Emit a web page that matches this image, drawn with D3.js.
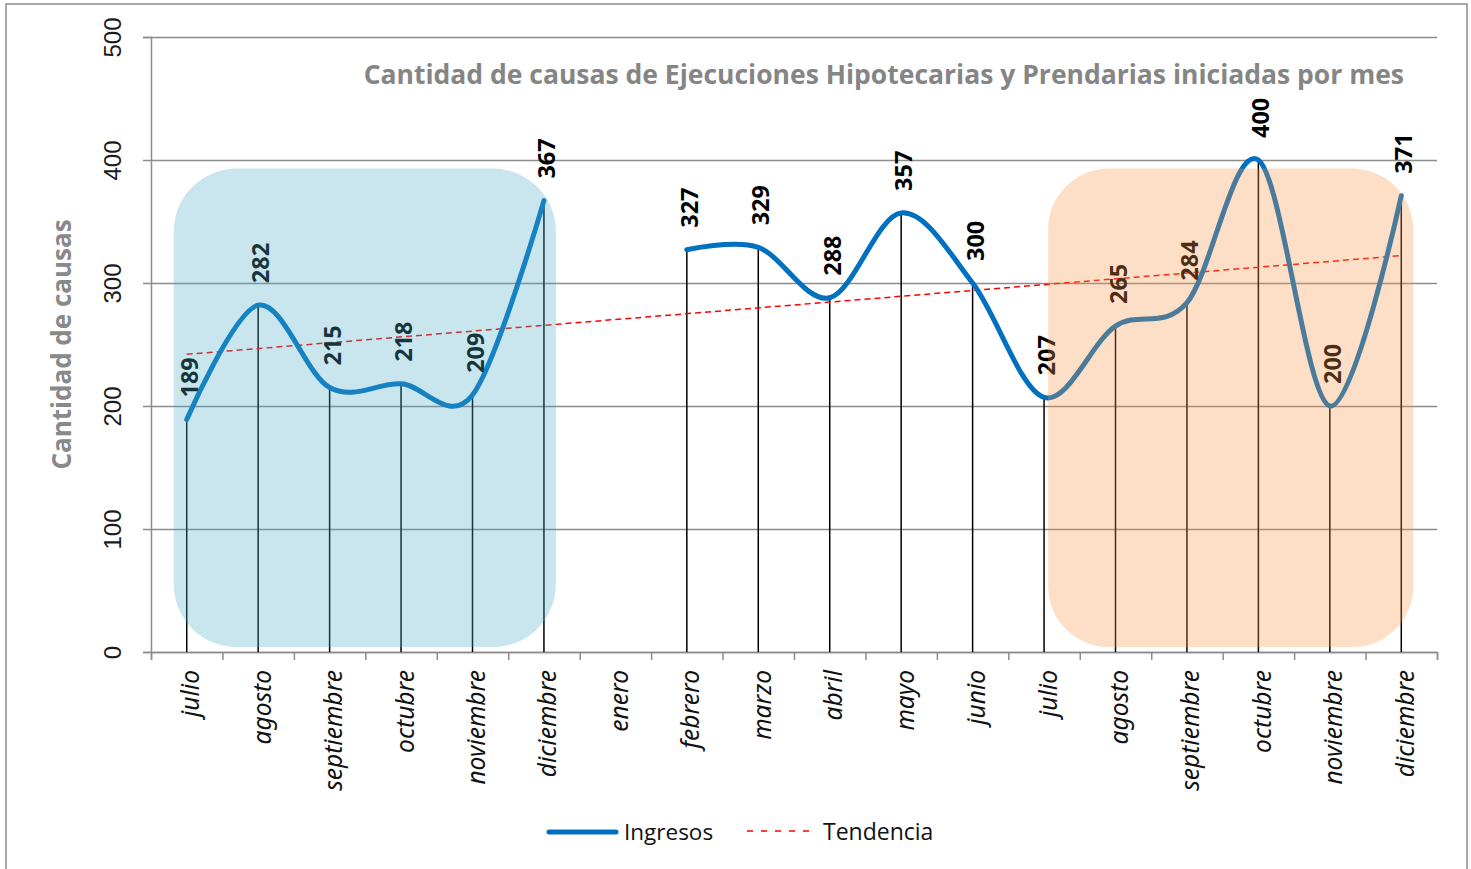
<!DOCTYPE html>
<html>
<head>
<meta charset="utf-8">
<script src="https://cdn.jsdelivr.net/npm/d3@7"></script>
<style>
  body { margin: 0; background: #fff; }
  svg { font-family: "Open Sans", "Noto Sans", sans-serif; }
</style>
</head>
<body>
<script>
// datos del grafico
var meses = ["julio", "agosto", "septiembre", "octubre", "noviembre", "diciembre", "enero",
  "febrero", "marzo", "abril", "mayo", "junio", "julio", "agosto", "septiembre", "octubre",
  "noviembre", "diciembre"];
var ingresos = [189, 282, 215, 218, 209, 367, null, 327, 329, 288, 357, 300, 207, 265, 284, 400, 200, 371];
var yTicks = [0, 100, 200, 300, 400, 500];
var titulo = "Cantidad de causas de Ejecuciones Hipotecarias y Prendarias iniciadas por mes";
var tituloY = "Cantidad de causas";
var leyenda = ["Ingresos", "Tendencia"];

var width = 1471, height = 869;
var mLeft = 151, mRight = 1437, mTop = 37, mBottom = 652;

var svg = d3.select("body").append("svg")
  .attr("width", width)
  .attr("height", height);

// marco exterior
svg.append("rect")
  .attr("x", 6).attr("y", 4)
  .attr("width", 1461).attr("height", 880)
  .attr("fill", "#fff")
  .attr("stroke", "#8c8c8c")
  .attr("stroke-width", 1.5);

var idx = d3.range(meses.length);
var x = d3.scaleBand().domain(idx).range([mLeft, mRight]);
var xEdge = d3.scaleLinear().domain([0, meses.length]).range([mLeft, mRight]);
var y = d3.scaleLinear().domain([0, 500]).range([mBottom, mTop]);
var cx = function(i) { return x(i) + x.bandwidth() / 2; };

// grilla
svg.append("g")
  .attr("transform", "translate(" + mLeft + ",0)")
  .call(d3.axisLeft(y).tickValues(yTicks).tickSize(-(mRight - mLeft)).tickFormat(""))
  .call(function(g) { g.select(".domain").remove(); })
  .selectAll("line").attr("stroke", "#8c8c8c").attr("stroke-width", 1.5);

// eje y
var gy = svg.append("g")
  .attr("transform", "translate(" + mLeft + ",0)")
  .call(d3.axisLeft(y).tickValues(yTicks).tickSize(8).tickPadding(0));
gy.select(".domain").attr("stroke", "#8c8c8c").attr("stroke-width", 1.5);
gy.selectAll("line").attr("stroke", "#8c8c8c").attr("stroke-width", 1.5);
gy.selectAll("text")
  .attr("x", 0).attr("dy", null)
  .attr("transform", "translate(-39,0) rotate(-90)")
  .attr("text-anchor", "middle")
  .attr("dominant-baseline", "central")
  .attr("font-size", 24)
  .attr("fill", "#1a1a1a");

// eje x: marcas en los bordes
var gx = svg.append("g")
  .attr("transform", "translate(0," + mBottom + ")")
  .call(d3.axisBottom(xEdge).tickValues(d3.range(meses.length + 1)).tickSize(8).tickFormat(""));
gx.select(".domain").attr("stroke", "#8c8c8c").attr("stroke-width", 1.5);
gx.selectAll("line").attr("stroke", "#8c8c8c").attr("stroke-width", 1.5);

// etiquetas x
var gxl = svg.append("g")
  .attr("transform", "translate(0," + mBottom + ")")
  .call(d3.axisBottom(x).tickSize(0).tickFormat(function(i) { return meses[i]; }));
gxl.select(".domain").remove();
gxl.selectAll("text")
  .attr("y", 0).attr("dy", null)
  .attr("transform", "translate(3,18) rotate(-90)")
  .attr("text-anchor", "end")
  .attr("dominant-baseline", "central")
  .attr("font-family", "'Noto Sans', 'Open Sans', sans-serif")
  .attr("font-style", "italic")
  .attr("font-size", 24.5)
  .attr("fill", "#111");

// titulo eje y
svg.append("text")
  .attr("transform", "translate(61," + (mTop + mBottom) / 2 + ") rotate(-90)")
  .attr("text-anchor", "middle")
  .attr("dominant-baseline", "central")
  .attr("font-size", 26)
  .attr("font-weight", "bold")
  .attr("fill", "#898989")
  .text(tituloY);

// titulo
svg.append("text")
  .attr("x", 1404).attr("y", 84)
  .attr("text-anchor", "end")
  .attr("font-size", 26.5)
  .attr("font-weight", "bold")
  .attr("fill", "#858585")
  .text(titulo);

var puntos = idx.filter(function(i) { return ingresos[i] != null; });

// lineas de caida
svg.append("g").selectAll("line")
  .data(puntos).enter().append("line")
  .attr("x1", cx).attr("x2", cx)
  .attr("y1", function(i) { return y(ingresos[i]); })
  .attr("y2", mBottom)
  .attr("stroke", "#000")
  .attr("stroke-width", 1.5);

// tendencia lineal (minimos cuadrados, x = 1..n)
var xs = puntos.map(function(i) { return i + 1; });
var ys = puntos.map(function(i) { return ingresos[i]; });
var mx = d3.mean(xs), my = d3.mean(ys);
var sxy = d3.sum(xs, function(v, k) { return (v - mx) * (ys[k] - my); });
var sxx = d3.sum(xs, function(v) { return (v - mx) * (v - mx); });
var pend = sxy / sxx, inter = my - pend * mx;
var tend = [0, meses.length - 1];

svg.append("line")
  .attr("x1", cx(tend[0])).attr("x2", cx(tend[1]))
  .attr("y1", y(inter + pend * (tend[0] + 1)))
  .attr("y2", y(inter + pend * (tend[1] + 1)))
  .attr("stroke", "#ff0000")
  .attr("stroke-width", 1.5)
  .attr("stroke-dasharray", "6,4");

// serie suavizada
var linea = d3.line()
  .defined(function(i) { return ingresos[i] != null; })
  .x(cx)
  .y(function(i) { return y(ingresos[i]); })
  .curve(d3.curveCardinal.tension(0));

svg.append("path")
  .datum(idx)
  .attr("d", linea)
  .attr("fill", "none")
  .attr("stroke", "#0070c0")
  .attr("stroke-width", 5)
  .attr("stroke-linecap", "round");

// etiquetas de datos
svg.append("g").selectAll("text")
  .data(puntos).enter().append("text")
  .attr("transform", function(i) {
    return "translate(" + (cx(i) + 2) + "," + (y(ingresos[i]) - 22) + ") rotate(-90)";
  })
  .attr("text-anchor", "start")
  .attr("dominant-baseline", "central")
  .attr("font-size", 23.5)
  .attr("font-weight", "bold")
  .attr("fill", "#000")
  .text(function(i) { return ingresos[i]; });

// recuadros semitransparentes
svg.append("rect")
  .attr("x", cx(0) - 13).attr("y", y(393))
  .attr("width", cx(5) - cx(0) + 25).attr("height", y(4) - y(393))
  .attr("rx", 63).attr("ry", 63)
  .attr("fill", "#4bacc6").attr("fill-opacity", 0.3);

svg.append("rect")
  .attr("x", cx(12) + 4).attr("y", y(393))
  .attr("width", cx(17) - cx(12) + 8).attr("height", y(4) - y(393))
  .attr("rx", 61).attr("ry", 61)
  .attr("fill", "#f79646").attr("fill-opacity", 0.3);

// leyenda
var ley = svg.append("g");
ley.append("line")
  .attr("x1", 549).attr("x2", 616).attr("y1", 832).attr("y2", 832)
  .attr("stroke", "#0070c0").attr("stroke-width", 5).attr("stroke-linecap", "round");
ley.append("text")
  .attr("x", 624).attr("y", 840)
  .attr("font-size", 22.5).attr("fill", "#111")
  .text(leyenda[0]);
ley.append("line")
  .attr("x1", 747).attr("x2", 810).attr("y1", 831).attr("y2", 831)
  .attr("stroke", "#ff0000").attr("stroke-width", 1.5).attr("stroke-dasharray", "6,8");
ley.append("text")
  .attr("x", 823).attr("y", 840)
  .attr("font-size", 23).attr("fill", "#111")
  .text(leyenda[1]);
</script>
</body>
</html>
